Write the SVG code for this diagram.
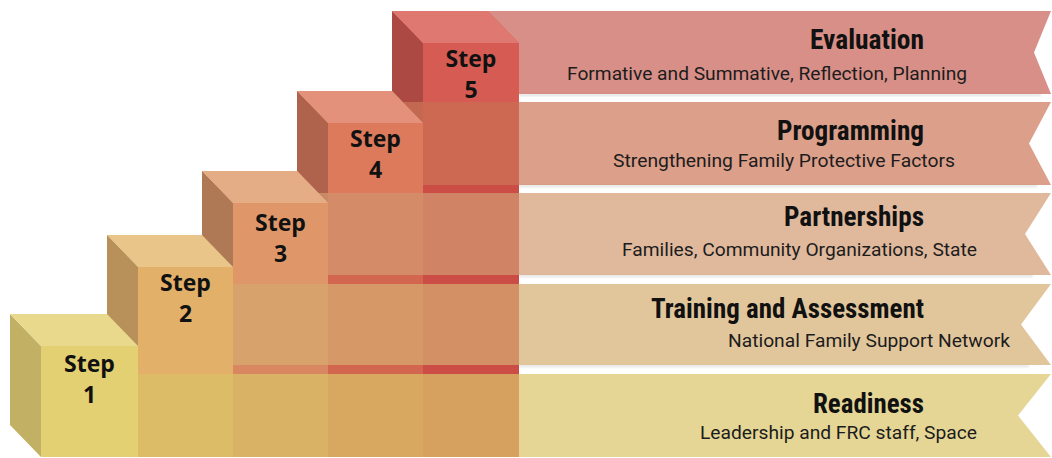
<svg xmlns="http://www.w3.org/2000/svg" width="1052" height="458" viewBox="0 0 1052 458">
<style>
.step{font-family:"Open Sans","Noto Sans",sans-serif;font-weight:700;font-size:23px;fill:#111;text-anchor:middle}
.title{font-family:"Roboto Condensed","Liberation Sans Narrow",Roboto,sans-serif;font-weight:700;font-size:28px;fill:#111;text-anchor:end}
.sub{font-family:Roboto,"Liberation Sans",sans-serif;font-size:18px;fill:#1c1c1c;text-anchor:end}
.rib{fill-opacity:0.7}
.shadow{fill:#000;fill-opacity:0.13;filter:url(#blur)}
</style>
<defs>
  <filter id="blur" x="-5%" y="-100%" width="110%" height="300%"><feGaussianBlur stdDeviation="0.9"/></filter>
</defs>
<rect width="1052" height="458" fill="#ffffff"/>
<g id="columns">
  <polygon points="392,11 423,43 423,457 392,425" fill="#ab4942"/>
  <rect x="423" y="43" width="96" height="414" fill="#cc4c46"/>
  <polygon points="392,11 488,11 519,43 423,43" fill="#de7870"/>
  <polygon points="297,91 328,123 328,457 297,425" fill="#af624c"/>
  <rect x="328" y="123" width="95" height="334" fill="#d3664f"/>
  <polygon points="297,91 392,91 423,123 328,123" fill="#e3917a"/>
  <polygon points="202,171 233,203 233,457 202,425" fill="#b07955"/>
  <rect x="233" y="203" width="95" height="254" fill="#d98760"/>
  <polygon points="202,171 297,171 328,203 233,203" fill="#e5ad86"/>
  <polygon points="107,235 138,267 138,457 107,425" fill="#b8915a"/>
  <rect x="138" y="267" width="95" height="190" fill="#dfa865"/>
  <polygon points="107,235 202,235 233,267 138,267" fill="#e9c58a"/>
</g>
<g id="ribbon-shadows">
  <rect class="shadow" x="519" y="94" width="522" height="2"/>
  <rect class="shadow" x="519" y="185" width="518" height="2"/>
  <rect class="shadow" x="519" y="275" width="514" height="2"/>
  <rect class="shadow" x="519" y="365" width="510" height="2"/>
</g>
<g id="ribbon-evaluation">
  <polygon class="rib" points="423,11 1051,11 1034,52.5 1051,94 423,94" fill="#c75f55"/>
  <text class="title" x="924" y="49" textLength="114" lengthAdjust="spacingAndGlyphs">Evaluation</text>
  <text class="sub" x="967" y="80" textLength="400" lengthAdjust="spacingAndGlyphs">Formative and Summative, Reflection, Planning</text>
</g>
<g id="ribbon-programming">
  <polygon class="rib" points="328,102 1051,102 1029,143.5 1051,185 328,185" fill="#cd7659"/>
  <text class="title" x="924" y="140" textLength="147" lengthAdjust="spacingAndGlyphs">Programming</text>
  <text class="sub" x="955" y="167" textLength="342" lengthAdjust="spacingAndGlyphs">Strengthening Family Protective Factors</text>
</g>
<g id="ribbon-partnerships">
  <polygon class="rib" points="233,193 1051,193 1025,234 1051,275 233,275" fill="#d39b74"/>
  <text class="title" x="924" y="226" textLength="140" lengthAdjust="spacingAndGlyphs">Partnerships</text>
  <text class="sub" x="977" y="256" textLength="355" lengthAdjust="spacingAndGlyphs">Families, Community Organizations, State</text>
</g>
<g id="ribbon-training">
  <polygon class="rib" points="138,284 1051,284 1021,324.5 1051,365 138,365" fill="#d6ae70"/>
  <text class="title" x="924" y="318" textLength="273" lengthAdjust="spacingAndGlyphs">Training and Assessment</text>
  <text class="sub" x="1010" y="347" textLength="282" lengthAdjust="spacingAndGlyphs">National Family Support Network</text>
</g>
<g id="ribbon-readiness">
  <polygon class="rib" points="41,374 1051,374 1018,415.5 1051,457 41,457" fill="#dac468"/>
  <text class="title" x="924" y="413" textLength="111" lengthAdjust="spacingAndGlyphs">Readiness</text>
  <text class="sub" x="977" y="439" textLength="277" lengthAdjust="spacingAndGlyphs">Leadership and FRC staff, Space</text>
</g>
<g id="step5">
  <polygon points="392,11 423,43 423,102 392,70" fill="#ab4942"/>
  <polygon points="392,11 488,11 519,43 423,43" fill="#de7870"/>
  <rect x="423" y="43" width="96" height="59" fill="#d65c53"/>
  <text class="step" x="471" y="67">Step</text>
  <text class="step" x="471" y="98">5</text>
</g>
<g id="step4">
  <polygon points="297,91 328,123 328,193 297,161" fill="#af624c"/>
  <polygon points="297,91 392,91 423,123 328,123" fill="#e3917a"/>
  <rect x="328" y="123" width="95" height="70" fill="#dc7a5b"/>
  <text class="step" x="375.5" y="147">Step</text>
  <text class="step" x="375.5" y="178">4</text>
</g>
<g id="step3">
  <polygon points="202,171 233,203 233,284 202,252" fill="#b07955"/>
  <polygon points="202,171 297,171 328,203 233,203" fill="#e5ad86"/>
  <rect x="233" y="203" width="95" height="81" fill="#df9769"/>
  <text class="step" x="280.5" y="231">Step</text>
  <text class="step" x="280.5" y="262">3</text>
</g>
<g id="step2">
  <polygon points="107,235 138,267 138,374 107,342" fill="#b8915a"/>
  <polygon points="107,235 202,235 233,267 138,267" fill="#e9c58a"/>
  <rect x="138" y="267" width="95" height="107" fill="#e3b06a"/>
  <text class="step" x="185.5" y="291">Step</text>
  <text class="step" x="185.5" y="322">2</text>
</g>
<g id="step1">
  <polygon points="10,314 41,346 41,457 10,425" fill="#c2b064"/>
  <polygon points="10,314 107,314 138,346 41,346" fill="#e8d98c"/>
  <rect x="41" y="346" width="97" height="111" fill="#e3d072"/>
  <text class="step" x="89.5" y="372">Step</text>
  <text class="step" x="89.5" y="403">1</text>
</g>
<g id="connectors"/>
</svg>
